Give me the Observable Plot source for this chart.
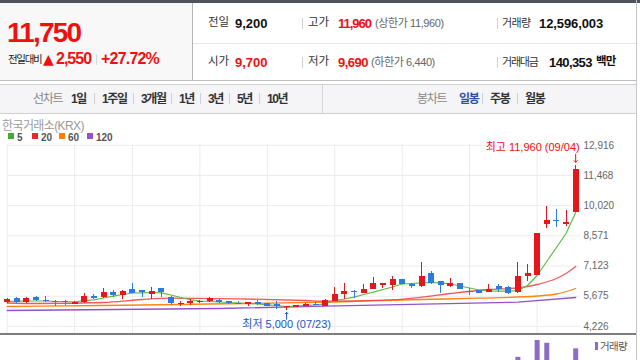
<!DOCTYPE html>
<html><head><meta charset="utf-8">
<script src="https://cdn.jsdelivr.net/npm/d3@7"></script>
<script src="https://cdn.jsdelivr.net/npm/@observablehq/plot@0.6"></script>
<style>
body{margin:0;width:640px;height:360px;overflow:hidden;position:relative;background:#fff;font-family:"Liberation Sans","Noto Sans CJK KR",sans-serif;}
#root{position:absolute;left:0;top:0;width:640px;height:360px;}
.a{position:absolute;white-space:nowrap;}
.p{position:absolute;}
</style></head><body>
<div id="root"></div>
<script>
// ---- quote header values ----
const curPrice = 11750, prevClose = 9200, openPrice = 9700, highPrice = 11960, lowPrice = 9690;
const upperLimit = 11960, lowerLimit = 6440, tradeVolume = 12596003, tradeValue = 140353;
const lineTabs = ["1일","1주일","3개월","1년","3년","5년","10년"];
const candleTabs = ["일봉","주봉","월봉"];
// ---- candle data (60 trading days, last = 09/04) ----
const opens  = [5360,5550,5390,5620,5470,5440,5440,5280,5360,5650,5630,5870,5710,6000,5950,5760,6050,5600,5280,5315,5395,5425,5450,5425,5315,5265,5345,5315,5265,5135,5150,5185,5295,5185,5425,5745,5920,5825,6000,6205,6180,6480,6255,6145,6780,6385,6145,6275,5905,5955,5870,6145,6110,5840,6640,6670,9100,9300,9140,9700];
const closes = [5500,5390,5580,5470,5425,5360,5360,5390,5650,5600,5840,5710,5905,5820,5860,5905,5840,5315,5345,5440,5410,5555,5420,5315,5280,5365,5315,5200,5200,5185,5220,5295,5235,5460,5760,5920,5855,6000,6290,6255,6465,6255,6160,6640,6275,6190,6305,6000,5855,5825,6000,5985,5795,6640,6755,8670,9310,9275,9200,11750];
const highs  = [5580,5620,5620,5665,5680,5470,5460,5410,5790,5760,6030,5950,5930,6270,5970,6110,6060,5665,5425,5520,5475,5615,5535,5440,5440,5380,5475,5330,5425,5200,5240,5310,5390,5535,6110,6275,5930,6225,6575,6270,6625,6500,6270,7280,6880,6400,6545,6290,6050,5970,6240,6240,6130,7310,7185,8700,9995,9835,9790,11960];
const lows   = [5330,5330,5350,5425,5360,5200,5230,5260,5330,5535,5570,5620,5505,5800,5630,5520,5615,5230,5200,5230,5330,5375,5345,5300,5270,5185,5250,5180,5055,5000,5130,5170,5220,5170,5410,5505,5585,5800,5980,6035,5965,6240,6065,6120,6250,5825,6120,5980,5715,5800,5850,5855,5780,5820,6385,6650,8940,8960,9000,9690];
const volumes = [0.6e6,0.5e6,0.7e6,0.5e6,0.4e6,0.5e6,0.4e6,0.4e6,1.2e6,0.6e6,1.5e6,0.8e6,0.9e6,1.6e6,0.7e6,1.1e6,0.9e6,1.3e6,0.6e6,0.7e6,0.4e6,0.6e6,0.4e6,0.5e6,0.4e6,0.5e6,0.4e6,0.5e6,0.8e6,0.7e6,0.4e6,0.5e6,0.4e6,1.0e6,2.6e6,2.8e6,1.0e6,1.4e6,2.4e6,1.1e6,2.2e6,1.2e6,0.8e6,4.8e6,3.0e6,1.5e6,1.6e6,1.0e6,0.8e6,0.6e6,1.2e6,0.9e6,0.8e6,9.2e6,5.5e6,15.9e6,14.8e6,7.0e6,6.0e6,12596003];
// ---- moving averages ----
const ma5 = [5425,5439,5449,5449,5449,5425,5425,5401,5473,5507,5593,5679,5761,5833,5842,5857,5842,5737,5617,5507,5449,5425,5401,5377,5353,5329,5305,5267,5233,5185,5209,5233,5257,5315,5473,5545,5631,5761,5871,6001,6120,6264,6288,6322,6336,6322,6264,6168,6072,5977,5929,5919,5919,5953,6192,6672,7343,8015,8686,9693];
const ma20Idx = [0,3,10,14,17,24,31,33,40,43,46,50,53,55,57,58,59];
const ma20Val = [5353,5329,5377,5521,5583,5554,5473,5439,5507,5631,5809,6001,6072,6240,6528,6768,7104];
const ma60Idx = [0,10,21,34,43,49,55,57,59];
const ma60Val = [5185,5233,5305,5401,5521,5583,5689,5785,6048];
const ma120Idx = [0,22,33,53,59];
const ma120Val = [4993,5089,5200,5391,5617];
const yTicks = [4226,5675,7123,8571,10020,11468,12916];
const gridIdx = [0,7,13,20,27,34,41,48,55];
const hiDate = "09/04", loDate = "07/23";
const maNames = ["5","20","60","120"];
const maColors = ["#5cbb45","#ee3b3b","#ff8418","#9552cc"];
const legendColors = ["#3fae32","#e52a2a","#ff7e0d","#9a4fd0"];

const UP = "#e5161e", DOWN = "#2b7be1", RED = "#f01010", BLUE = "#1a55c8";
const fmt = d3.format(",");
const root = document.getElementById('root');

function box(x,y,w,h,bg){const d=document.createElement('div');d.className='p';Object.assign(d.style,{left:x+'px',top:y+'px',width:w+'px',height:h+'px',background:bg});root.appendChild(d);return d;}
function put(text,x,yc,fs,o={}){const s=document.createElement('span');s.className='a';s.textContent=text;
  Object.assign(s.style,{left:x+'px',top:(yc-fs/2)+'px',fontSize:fs+'px',lineHeight:fs+'px',color:o.color||'#222',fontWeight:o.bold?'bold':'normal',letterSpacing:(o.ls||0)+'px'});
  if(o.family) s.style.fontFamily=o.family;
  root.appendChild(s);return s;}

// ---- header frame ----
box(0,0,640,3,"#4f535b");
box(0,3,192,77,"#f8f8f8");
box(192,3,1,77,"#b5b5b5");
box(193,43,443,1,"#e6e6e6");
box(0,80,636,1,"#bdbdbd");
box(636,0,1,360,"#c4c4c4");
// header texts
put(fmt(curPrice),7,33,28,{color:RED,bold:true,ls:-1.8});
put("전일대비",8,59,10.5,{color:"#222",ls:-1.3});
put("▲",43,58.5,14,{color:RED,family:'"DejaVu Sans",sans-serif'});
put(fmt(curPrice-prevClose),56,59,16,{color:RED,bold:true,ls:-1});
box(96,54,1,11,"#d8d8d8");
put("+"+((curPrice-prevClose)/prevClose*100).toFixed(2)+"%",101,59,16,{color:RED,bold:true,ls:-0.8});

const r1=23, r2=62;
put("전일",208,r1,11.5,{color:"#333"}); put(fmt(prevClose),235,r1,13,{bold:true,color:"#111"});
put("시가",208,r2,11.5,{color:"#333"}); put(fmt(openPrice),235,r2,13,{bold:true,color:RED});
box(302,18,1,11,"#cfcfcf"); box(302,57,1,11,"#cfcfcf");
put("고가",308,r1,11.5,{color:"#333"}); put(fmt(highPrice),338,r1,13,{bold:true,color:RED,ls:-1});
put("(상한가 "+fmt(upperLimit)+")",375,r1,11,{color:"#666",ls:-0.4});
put("저가",308,r2,11.5,{color:"#333"}); put(fmt(lowPrice),338,r2,13,{bold:true,color:RED,ls:-0.5});
put("(하한가 "+fmt(lowerLimit)+")",371,r2,11,{color:"#666",ls:-0.4});
box(497,18,1,11,"#cfcfcf"); box(497,57,1,11,"#cfcfcf");
put("거래량",502,r1,11,{color:"#333",ls:-0.6}); put(fmt(tradeVolume),539,r1,13,{bold:true,color:"#111",ls:-0.1});
put("거래대금",502,r2,11,{color:"#333",ls:-1.2}); put(fmt(tradeValue),549,r2,13,{bold:true,color:"#111",ls:-0.6});
put("백만",596,r2,11.5,{color:"#111",bold:true,ls:-0.8});

// ---- tab bar ----
box(0,84,636,1,"#cfcfcf");
box(0,85,636,28,"#f5f5f7");
box(0,113,636,1,"#cfcfcf");
box(322,85,1,28,"#d5d5d5");
const tY=99;
put("선차트",33,tY,12,{color:"#888",ls:-1.3});
const lineTabX=[71,102,141,179,208,237,267];
lineTabs.forEach((t,i)=>{put(t,lineTabX[i],tY,12,{color:"#333",bold:true,ls:-1.4}); if(i>0) box(lineTabX[i]-8,93,1,11,"#d0d0d0");});
put("봉차트",417,tY,12,{color:"#888",ls:-1.3});
const candleTabX=[459,490,525];
candleTabs.forEach((t,i)=>{put(t,candleTabX[i],tY,12,{color:i===0?"#2a52a8":"#333",bold:true,ls:-1.4}); if(i>0) box(candleTabX[i]-8,93,1,11,"#d0d0d0");});

// ---- chart labels/legend ----
put("한국거래소(KRX)",2,126,12,{color:"#9a9a9a",ls:-0.6});
const legX=[8,32,59,87];
maNames.forEach((n,i)=>{box(legX[i],133,6,6,legendColors[i]); put(n,legX[i]+9,137.5,10,{color:"#555",bold:true});});

// ---- main price chart ----
const idx = d3.range(opens.length);
const candles = idx.map(i=>({i,o:opens[i],c:closes[i],h:highs[i],l:lows[i]}));
const col = d=>d.c>=d.o?UP:DOWN;
const minV = 70;
const bLo = d=>{const lo=Math.min(d.o,d.c),hi=Math.max(d.o,d.c);return lo-Math.max(0,(minV-(hi-lo))/2);};
const bHi = d=>{const lo=Math.min(d.o,d.c),hi=Math.max(d.o,d.c);return hi+Math.max(0,(minV-(hi-lo))/2);};
const ma5d = idx.map(i=>({i,v:ma5[i]}));
const mk = (I,V)=>I.map((i,k)=>({i,v:V[k]}));
const hiD = candles.reduce((a,b)=>b.h>a.h?b:a);
const loD = candles.reduce((a,b)=>b.l<a.l?b:a);
const ff = '"Liberation Sans","Noto Sans CJK KR",sans-serif';

const main = Plot.plot({
  width:640, height:200,
  marginLeft:6.7, marginRight:60, marginTop:4, marginBottom:6,
  x:{domain:[0,59.5], axis:null},
  y:{domain:[3842,12955], axis:"right", ticks:yTicks, tickFormat:fmt, tickSize:0, tickPadding:3, label:null},
  style:{background:"none", color:"#666", fontSize:"10px", fontFamily:ff},
  marks:[
    Plot.ruleY(yTicks,{stroke:"#ececec"}),
    Plot.ruleX(gridIdx,{stroke:"#ececec"}),
    Plot.line(mk(ma120Idx,ma120Val),{x:"i",y:"v",stroke:maColors[3],strokeWidth:1.3}),
    Plot.line(mk(ma60Idx,ma60Val),{x:"i",y:"v",stroke:maColors[2],strokeWidth:1.3,curve:"monotone-x"}),
    Plot.line(mk(ma20Idx,ma20Val),{x:"i",y:"v",stroke:maColors[1],strokeWidth:1.3,strokeOpacity:0.85,curve:"monotone-x"}),
    Plot.line(ma5d,{x:"i",y:"v",stroke:maColors[0],strokeWidth:1.2}),
    Plot.ruleX(candles,{x:"i",y1:"l",y2:"h",stroke:col,strokeWidth:1,shapeRendering:"crispEdges"}),
    Plot.ruleX(candles,{x:"i",y1:bLo,y2:bHi,stroke:col,strokeWidth:6,shapeRendering:"crispEdges"}),
    Plot.text([hiD],{x:"i",y:"h",text:d=>`최고 ${fmt(d.h)} (${hiDate})`,textAnchor:"end",dx:4,dy:-18,fill:RED,fontSize:11,fontFamily:ff}),
    Plot.vector([hiD],{x:"i",y:"h",length:8,rotate:180,anchor:"end",dy:-3,stroke:RED,strokeWidth:1}),
    Plot.text([loD],{x:"i",y:"l",text:d=>`최저 ${fmt(d.l)} (${loDate})`,textAnchor:"middle",dy:14,fill:BLUE,fontSize:11,fontFamily:ff}),
    Plot.vector([loD],{x:"i",y:"l",length:7,rotate:0,anchor:"end",dy:2,stroke:BLUE,strokeWidth:1})
  ]
});
main.style.position="absolute"; main.style.left="0px"; main.style.top="140px";
root.appendChild(main);

box(0,333,636,2,"#7d7d7d");

// ---- volume panel ----
const vol = Plot.plot({
  width:640, height:64,
  marginLeft:6.7, marginRight:60, marginTop:0, marginBottom:20,
  x:{domain:[0,59.5], axis:null},
  y:{domain:[0,17.5e6], axis:null},
  style:{background:"none"},
  marks:[ Plot.ruleX(idx.map(i=>({i,v:volumes[i]})),{x:"i",y:"v",stroke:"#8d6cc5",strokeWidth:5}) ]
});
vol.style.position="absolute"; vol.style.left="0px"; vol.style.top="336px";
root.appendChild(vol);
box(595,342,3,8,"#8d6cc5");
put("거래량",600,346,10.5,{color:"#555",ls:-0.6});
</script></body></html>
